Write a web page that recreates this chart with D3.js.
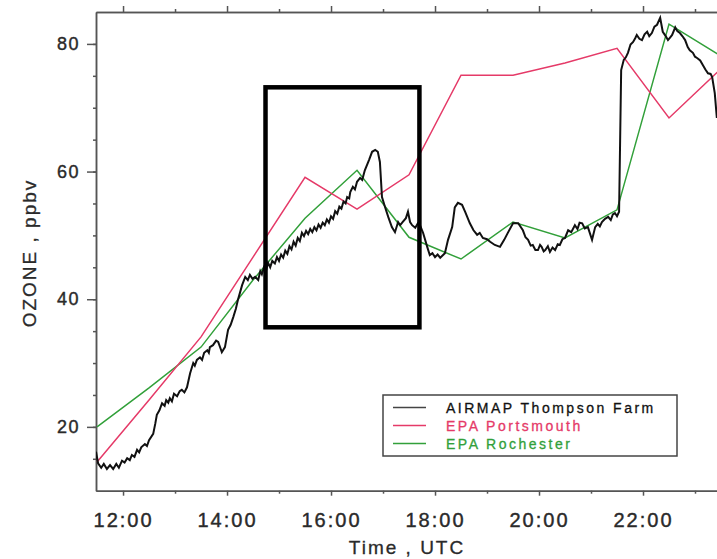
<!DOCTYPE html>
<html>
<head>
<meta charset="utf-8">
<script src="https://cdn.jsdelivr.net/npm/d3@7"></script>
<style>
  body { margin: 0; background: #fff; }
  svg { display: block; font-family: "Liberation Sans", Arial, sans-serif; }
  .axis path, .axis line { stroke: #555; stroke-width: 1.5; fill: none; }
  .axis text { fill: #2a2a2a; stroke: #2a2a2a; stroke-width: 0.4; }
</style>
</head>
<body>
<svg id="chart" width="717" height="559"></svg>
<script>
// AIRMAP Thompson Farm ozone, [hour UTC, ppbv]
const airmap = [
  [11.48,16.1],[11.52,14.3],[11.58,13.6],[11.63,14.2],[11.69,13.4],[11.75,14.0],[11.81,13.4],[11.87,14.2],
  [11.92,13.6],[11.98,14.7],[12.03,14.4],[12.08,15.1],[12.13,14.8],[12.17,15.6],[12.22,15.3],[12.27,16.4],
  [12.31,16.0],[12.35,16.8],[12.42,17.3],[12.46,17.0],[12.50,17.9],[12.58,18.9],[12.62,20.5],[12.65,21.9],
  [12.70,22.6],[12.75,23.7],[12.80,23.3],[12.83,24.2],[12.87,23.8],[12.90,24.5],[12.94,24.0],[12.98,25.2],
  [13.04,24.8],[13.09,25.6],[13.13,25.8],[13.18,25.4],[13.23,26.2],[13.29,28.4],[13.35,30.0],[13.38,29.6],
  [13.42,30.5],[13.48,30.9],[13.52,30.5],[13.56,31.6],[13.62,32.0],[13.65,31.6],[13.67,32.5],[13.73,32.8],
  [13.79,33.5],[13.83,33.3],[13.87,32.4],[13.90,31.7],[13.96,32.5],[14.02,35.2],[14.07,36.0],[14.12,37.2],
  [14.17,38.5],[14.21,39.9],[14.29,42.2],[14.35,43.5],[14.40,43.0],[14.44,43.8],[14.49,43.2],[14.54,43.5],
  [14.60,43.0],[14.64,44.4],[14.67,43.9],[14.71,45.0],[14.75,44.5],[14.79,45.7],[14.83,45.0],[14.87,46.0],
  [14.92,45.6],[14.96,46.6],[15.00,46.0],[15.04,47.0],[15.08,46.5],[15.12,47.6],[15.16,47.1],[15.20,48.3],
  [15.24,47.8],[15.28,49.0],[15.32,48.4],[15.36,49.6],[15.40,49.1],[15.44,50.4],[15.48,49.9],[15.52,50.7],
  [15.56,50.2],[15.60,51.0],[15.64,50.5],[15.68,51.3],[15.72,50.8],[15.76,51.7],[15.80,51.2],[15.84,52.0],
  [15.88,51.6],[15.92,52.5],[15.96,52.0],[16.00,53.0],[16.04,52.6],[16.08,53.8],[16.12,53.4],[16.16,54.5],
  [16.20,54.2],[16.24,55.3],[16.28,55.0],[16.31,56.0],[16.35,55.8],[16.37,56.8],[16.42,57.6],[16.46,57.2],
  [16.50,58.4],[16.56,59.0],[16.60,58.7],[16.65,60.2],[16.73,61.8],[16.79,63.1],[16.85,63.4],[16.90,63.1],
  [16.94,61.5],[16.98,56.0],[17.04,54.4],[17.10,52.9],[17.17,51.3],[17.23,50.5],[17.29,52.1],[17.33,51.6],
  [17.38,52.1],[17.44,52.7],[17.48,53.7],[17.52,52.1],[17.56,51.6],[17.62,51.2],[17.67,51.9],[17.71,51.6],
  [17.77,50.4],[17.85,48.2],[17.90,46.9],[17.95,47.2],[18.00,46.6],[18.05,47.0],[18.10,46.5],[18.19,47.2],
  [18.25,49.3],[18.33,51.3],[18.38,54.4],[18.44,55.1],[18.52,54.8],[18.58,53.7],[18.67,51.9],[18.74,50.8],
  [18.81,50.1],[18.86,50.4],[18.92,49.6],[19.00,49.4],[19.06,49.0],[19.15,48.5],[19.25,48.2],[19.33,49.3],
  [19.40,50.4],[19.50,51.9],[19.60,51.9],[19.69,50.8],[19.74,49.7],[19.79,49.3],[19.84,48.4],[19.88,48.5],
  [19.93,47.7],[19.98,47.7],[20.02,48.5],[20.05,48.2],[20.09,47.5],[20.12,47.7],[20.17,48.3],[20.21,47.4],
  [20.26,48.1],[20.31,47.7],[20.36,48.6],[20.40,48.5],[20.45,49.4],[20.50,49.6],[20.56,50.8],[20.62,50.5],
  [20.69,51.6],[20.74,51.0],[20.78,52.0],[20.83,51.9],[20.88,51.1],[20.94,51.3],[21.02,49.3],[21.08,51.3],
  [21.13,51.8],[21.17,51.4],[21.21,52.1],[21.27,52.6],[21.33,52.9],[21.38,52.4],[21.42,53.3],[21.46,53.5],
  [21.50,53.0],[21.54,53.7],[21.58,75.9],[21.63,77.5],[21.67,77.9],[21.71,78.6],[21.76,79.9],[21.81,80.3],
  [21.85,80.9],[21.88,81.4],[21.93,80.8],[21.98,80.6],[22.03,81.5],[22.08,81.9],[22.12,81.2],[22.17,81.7],
  [22.22,82.7],[22.27,83.0],[22.33,84.1],[22.38,81.9],[22.43,81.3],[22.48,80.6],[22.52,81.0],[22.56,81.4],
  [22.62,82.6],[22.66,82.0],[22.71,81.7],[22.76,81.2],[22.81,80.6],[22.86,79.5],[22.90,79.0],[22.96,78.6],
  [23.00,78.0],[23.04,77.8],[23.10,77.4],[23.15,76.7],[23.20,76.0],[23.25,75.4],[23.30,75.3],[23.33,74.8],
  [23.38,72.3],[23.42,68.4]
];

// EPA hourly averages, plotted at the half hour
const epaHours = [11.5, 12.5, 13.5, 14.5, 15.5, 16.5, 17.5, 18.5, 19.5, 20.5, 21.5, 22.5, 23.5];
const portsmouth = [14.5, 24.2, 34.1, 46.6, 59.1, 54.1, 59.5, 75.1, 75.1, 77.0, 79.3, 68.4, 76.1];
const rochester = [20.0, 26.1, 32.5, 43.0, 52.7, 60.2, 49.7, 46.3, 52.1, 49.6, 54.0, 83.1, 78.1];

const seriesNames = ["AIRMAP Thompson Farm", "EPA Portsmouth", "EPA Rochester"];
const seriesColors = ["#111", "#e53a68", "#32a03a"];

const majorHours = [12, 14, 16, 18, 20, 22];
const minorHours = [13, 15, 17, 19, 21, 23];
const majorOzone = [20, 40, 60, 80];
const minorOzone = d3.range(15, 85, 5);

// highlighted window (hours, ppbv)
const boxHours = [14.74, 17.70];
const boxOzone = [35.6, 73.2];

const svg = d3.select("#chart");

const x = d3.scaleLinear().domain([11.48, 24]).range([96, 747]);
const y = d3.scaleLinear().domain([10, 85]).range([490.7, 12]);
const [x0, x1] = x.range();
const [y0, y1] = y.range();

svg.append("clipPath").attr("id", "plot-clip")
  .append("rect")
  .attr("x", x0).attr("y", y1)
  .attr("width", x1 - x0).attr("height", y0 - y1);

// axes: minor ticks first, then major with labels
function styleText(g, size, spacing) {
  g.selectAll("text")
    .style("font-size", size + "px")
    .style("letter-spacing", spacing + "px");
}

svg.append("g").attr("class", "axis")
  .attr("transform", `translate(${x0},0)`)
  .call(d3.axisLeft(y).tickValues(minorOzone).tickSize(3).tickSizeOuter(0).tickFormat(""));
svg.append("g").attr("class", "axis")
  .attr("transform", `translate(${x0},0)`)
  .call(d3.axisLeft(y).tickValues(majorOzone).tickSize(9).tickSizeOuter(0).tickPadding(7))
  .call(g => styleText(g, 18, 1.5));

svg.append("g").attr("class", "axis")
  .attr("transform", `translate(0,${y0})`)
  .call(d3.axisBottom(x).tickValues(minorHours).tickSize(3).tickSizeOuter(0).tickFormat(""));
svg.append("g").attr("class", "axis")
  .attr("transform", `translate(0,${y0})`)
  .call(d3.axisBottom(x).tickValues(majorHours).tickSize(5).tickSizeOuter(0).tickPadding(17)
    .tickFormat(d => d + ":00"))
  .call(g => styleText(g, 20, 2));

svg.append("g").attr("class", "axis")
  .attr("transform", `translate(0,${y1})`)
  .call(d3.axisTop(x).tickValues(minorHours).tickSize(3).tickSizeOuter(0).tickFormat(""));
svg.append("g").attr("class", "axis")
  .attr("transform", `translate(0,${y1})`)
  .call(d3.axisTop(x).tickValues(majorHours).tickSize(6).tickSizeOuter(0).tickFormat(""));

// axis titles
svg.append("text")
  .attr("x", 407).attr("y", 554)
  .attr("text-anchor", "middle")
  .style("font-size", "19px").style("letter-spacing", "2px")
  .attr("fill", "#2a2a2a").attr("stroke", "#2a2a2a").attr("stroke-width", 0.3)
  .text("Time , UTC");

svg.append("text")
  .attr("transform", "translate(36,253) rotate(-90)")
  .attr("text-anchor", "middle")
  .style("font-size", "19px").style("letter-spacing", "2px")
  .attr("fill", "#2a2a2a").attr("stroke", "#2a2a2a").attr("stroke-width", 0.3)
  .text("OZONE , ppbv");

// data lines
const plot = svg.append("g").attr("clip-path", "url(#plot-clip)");

const line = d3.line().x(d => x(d[0])).y(d => y(d[1]));

plot.append("path")
  .attr("fill", "none")
  .attr("stroke", seriesColors[2])
  .attr("stroke-width", 1.5)
  .attr("d", line(epaHours.map((h, i) => [h, rochester[i]])));

plot.append("path")
  .attr("fill", "none")
  .attr("stroke", seriesColors[1])
  .attr("stroke-width", 1.5)
  .attr("d", line(epaHours.map((h, i) => [h, portsmouth[i]])));

plot.append("path")
  .attr("fill", "none")
  .attr("stroke", seriesColors[0])
  .attr("stroke-width", 2)
  .attr("d", line(airmap));

// highlight box
svg.append("rect")
  .attr("x", x(boxHours[0]))
  .attr("y", y(boxOzone[1]))
  .attr("width", x(boxHours[1]) - x(boxHours[0]))
  .attr("height", y(boxOzone[0]) - y(boxOzone[1]))
  .attr("fill", "none")
  .attr("stroke", "#000")
  .attr("stroke-width", 4.5);

// legend
const legend = svg.append("g").attr("transform", "translate(383,395)");
legend.append("rect")
  .attr("width", 294).attr("height", 61)
  .attr("fill", "#fff")
  .attr("stroke", "#444")
  .attr("stroke-width", 1.5);

const rows = legend.selectAll("g.row")
  .data(seriesNames)
  .join("g")
  .attr("class", "row")
  .attr("transform", (d, i) => `translate(0,${12.5 + i * 18})`);

rows.append("line")
  .attr("x1", 10).attr("x2", 43)
  .attr("stroke", (d, i) => i === 0 ? "#444" : seriesColors[i])
  .attr("stroke-width", 1.5);

rows.append("text")
  .attr("x", 63).attr("y", 5)
  .attr("fill", (d, i) => seriesColors[i])
  .attr("stroke", (d, i) => seriesColors[i])
  .attr("stroke-width", 0.3)
  .style("font-size", "14px")
  .style("letter-spacing", "2.5px")
  .text(d => d);
</script>
</body>
</html>
